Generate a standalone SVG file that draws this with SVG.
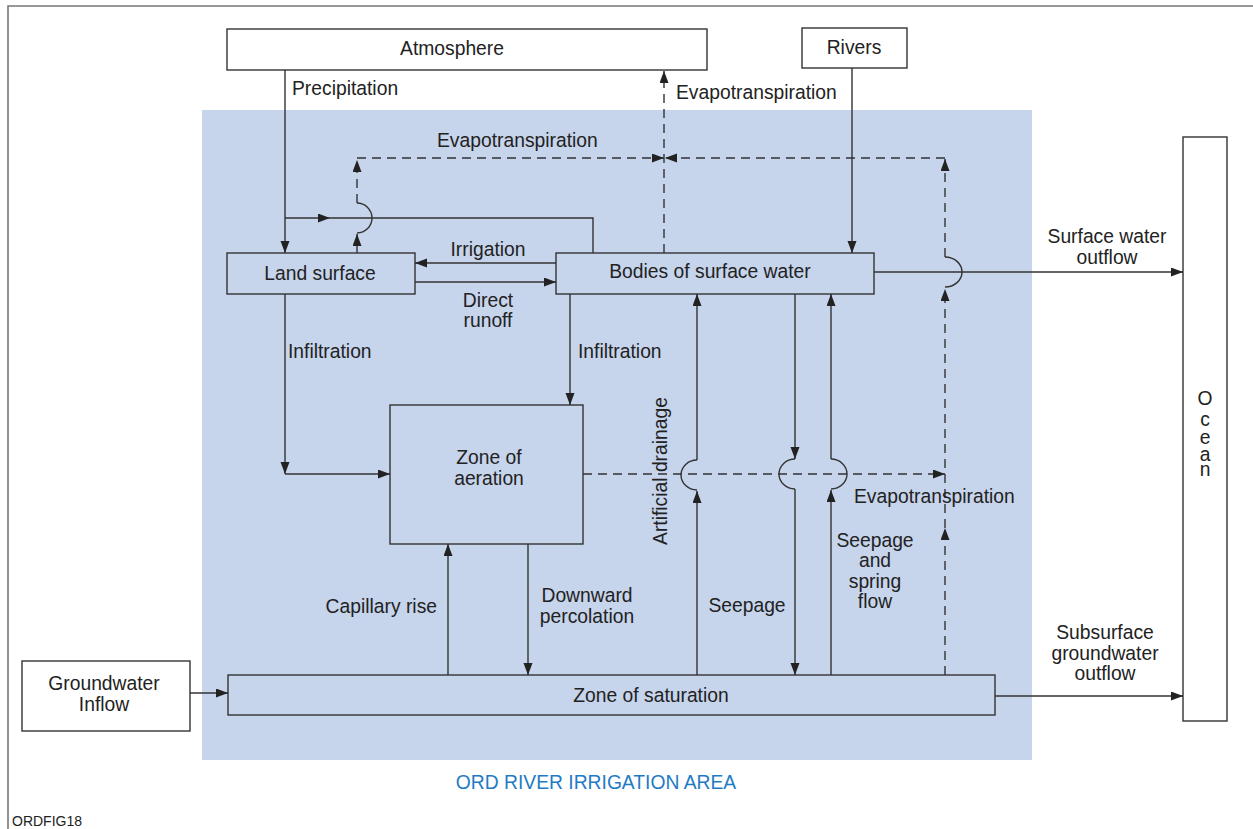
<svg xmlns="http://www.w3.org/2000/svg" width="1253" height="829" viewBox="0 0 1253 829">
<defs>
<marker id="ah" markerUnits="userSpaceOnUse" markerWidth="12" markerHeight="10" refX="12" refY="4.5" orient="auto"><path d="M0,0 L12,4.5 L0,9 z" fill="#222"/></marker>
<style>
text{font-family:"Liberation Sans",Arial,sans-serif;font-size:19.3px;fill:#222}
.c{text-anchor:middle}
.box{fill:none;stroke:#333;stroke-width:1.4}
.wbox{fill:#fff;stroke:#333;stroke-width:1.4}
.ln{fill:none;stroke:#333;stroke-width:1.4}
.ds{fill:none;stroke:#333;stroke-width:1.4;stroke-dasharray:9 6}
.ar{marker-end:url(#ah)}
</style>
</defs>
<rect width="1253" height="829" fill="#fff"/>
<path d="M8,829 L8,6 L1253,6" fill="none" stroke="#777" stroke-width="1.6"/>
<rect x="202" y="110" width="830" height="650" fill="#c6d4ec"/>

<g id="atmosphere"><rect class="wbox" x="227" y="29" width="480" height="41"/><text class="c" x="452" y="55">Atmosphere</text></g>
<g id="rivers"><rect class="wbox" x="802" y="28" width="105" height="40"/><text class="c" x="854" y="54">Rivers</text></g>
<g id="ocean"><rect class="wbox" x="1183" y="137" width="44" height="584"/>
<text class="c" x="1205" y="405">O</text><text class="c" x="1205" y="426">c</text><text class="c" x="1205" y="444">e</text><text class="c" x="1205" y="461">a</text><text class="c" x="1205" y="476">n</text></g>
<g id="gwinflow"><rect class="wbox" x="22" y="661" width="168" height="70"/><text class="c" x="104" y="690">Groundwater</text><text class="c" x="104" y="711">Inflow</text></g>
<g id="land"><rect class="box" x="227" y="253" width="188" height="41"/><text class="c" x="320" y="280">Land surface</text></g>
<g id="bodies"><rect class="box" x="556" y="253" width="318" height="41"/><text class="c" x="710" y="278">Bodies of surface water</text></g>
<g id="aeration"><rect class="box" x="390" y="405" width="193" height="139"/><text class="c" x="489" y="464">Zone of</text><text class="c" x="489" y="485">aeration</text></g>
<g id="saturation"><rect class="box" x="228" y="675" width="767" height="40"/><text class="c" x="651" y="702">Zone of saturation</text></g>

<g id="connectors">
<path class="ln ar" d="M285,70 L285,253"/>
<path class="ln ar" d="M285,218 L330,218"/>
<path class="ln" d="M330,218 L593,218 L593,253"/>
<path class="ds ar" d="M357,253 L357,234"/>
<path class="ln" d="M357,233 A15,15 0 0 0 357,203"/>
<path class="ds ar" d="M357,203 L357,160"/>
<path class="ds ar" d="M357,158 L664,158"/>
<path class="ds ar" d="M664,253 L664,71"/>
<path class="ds ar" d="M945,158 L665,158"/>
<path class="ds ar" d="M945,675 L945,528"/>
<path class="ds ar" d="M945,528 L945,289"/>
<path class="ln" d="M945,287 A17,15 0 0 0 945,257"/>
<path class="ds ar" d="M945,257 L945,159"/>
<path class="ln ar" d="M852,68 L852,253"/>
<path class="ln ar" d="M556,263 L415,263"/>
<path class="ln ar" d="M415,282 L556,282"/>
<path class="ln ar" d="M285,294 L285,474"/>
<path class="ln ar" d="M285,474 L390,474"/>
<path class="ln ar" d="M570,294 L570,405"/>
<path class="ds ar" d="M583,474 L945,474"/>
<path class="ln ar" d="M697,675 L697,491"/>
<path class="ln" d="M697,490 A16,15 0 0 1 697,460"/>
<path class="ln ar" d="M697,460 L697,294"/>
<path class="ln ar" d="M795,294 L795,459"/>
<path class="ln" d="M795,459 A16,15 0 0 0 795,489"/>
<path class="ln ar" d="M795,489 L795,675"/>
<path class="ln ar" d="M831,675 L831,490"/>
<path class="ln" d="M831,489 A16,15 0 0 0 831,459"/>
<path class="ln ar" d="M831,459 L831,294"/>
<path class="ln ar" d="M448,675 L448,544"/>
<path class="ln ar" d="M528,544 L528,675"/>
<path class="ln ar" d="M874,272 L1183,272"/>
<path class="ln ar" d="M190,693 L228,693"/>
<path class="ln ar" d="M995,696 L1183,696"/>
</g>

<g id="labels">
<text x="292" y="95">Precipitation</text>
<text x="676" y="99">Evapotranspiration</text>
<text x="437" y="147">Evapotranspiration</text>
<text class="c" x="488" y="256">Irrigation</text>
<text class="c" x="488" y="307">Direct</text>
<text class="c" x="488" y="327">runoff</text>
<text class="c" x="1107" y="243">Surface water</text>
<text class="c" x="1107" y="264">outflow</text>
<text x="288" y="358">Infiltration</text>
<text x="578" y="358">Infiltration</text>
<text class="c" transform="translate(667,471) rotate(-90)">Artificial drainage</text>
<text x="854" y="503">Evapotranspiration</text>
<text class="c" x="875" y="547">Seepage</text>
<text class="c" x="875" y="567">and</text>
<text class="c" x="875" y="588">spring</text>
<text class="c" x="875" y="608">flow</text>
<text x="437" y="613" text-anchor="end">Capillary rise</text>
<text class="c" x="587" y="602">Downward</text>
<text class="c" x="587" y="623">percolation</text>
<text class="c" x="747" y="612">Seepage</text>
<text class="c" x="1105" y="639">Subsurface</text>
<text class="c" x="1105" y="660">groundwater</text>
<text class="c" x="1105" y="680">outflow</text>
<text class="c" x="596" y="789" style="fill:#1f7bc4">ORD RIVER IRRIGATION AREA</text>
<text x="12" y="826" style="font-size:14px">ORDFIG18</text>
</g>
</svg>
